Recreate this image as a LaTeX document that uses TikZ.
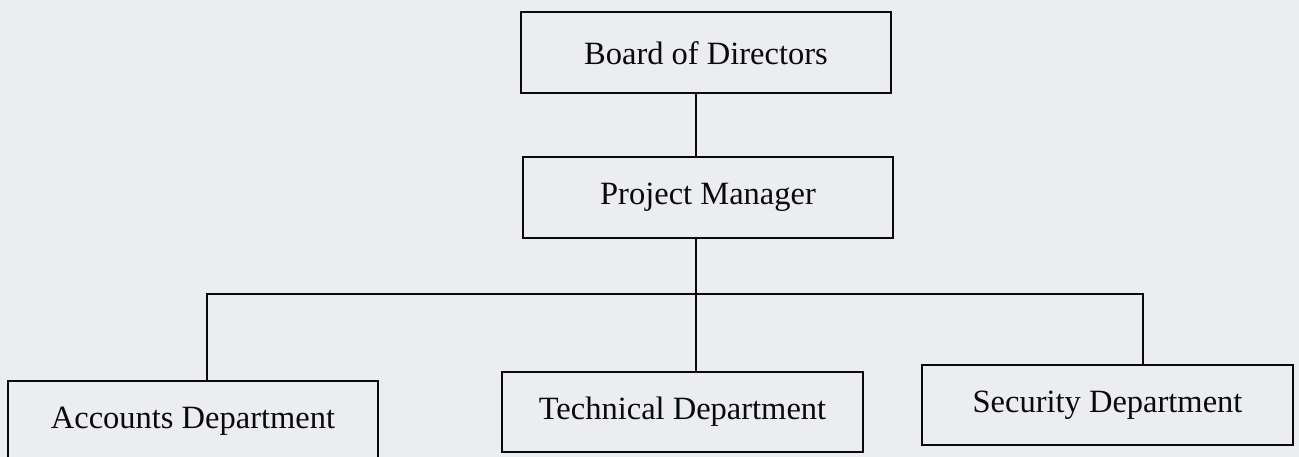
\documentclass[tikz,border=0pt]{standalone}
\usepackage{fontspec}
\setmainfont{Liberation Serif}
\definecolor{paper}{RGB}{236,237,240}
\definecolor{ink}{RGB}{10,10,10}
\begin{document}
\begin{tikzpicture}[x=1pt,y=1pt,
  box/.style={draw=ink, line width=2pt, fill=paper, rectangle, inner sep=0pt,
    font=\fontsize{32.5}{38}\selectfont, text=ink},
  link/.style={draw=ink, line width=2pt}]
\fill[paper] (0,0) rectangle (1299,-457);
\useasboundingbox (0,0) rectangle (1299,-457);
\node[box, minimum width=370, minimum height=81] (board) at (706,-53) {Board of Directors};
\node[box, minimum width=370, minimum height=81] (pm) at (708,-197.5) {Project Manager};
\node[box, minimum width=370, minimum height=80] (acc) at (193,-421) {\raisebox{5pt}{Accounts Department}};
\node[box, minimum width=361, minimum height=80] (tech) at (682.5,-412) {Technical Department};
\node[box, minimum width=371, minimum height=80] (sec) at (1107.5,-405) {\raisebox{6pt}{Security Department}};
\coordinate (jA) at (207,-294);
\coordinate (jT) at (696,-294);
\coordinate (jS) at (1143,-294);
\draw[link] (board.south -| jT) -- (pm.north -| jT);
\draw[link] (pm.south -| jT) -- (tech.north -| jT);
\draw[link, line cap=rect] (acc.north -| jA) -- (jA) -- (jS) -- (sec.north -| jS);
\end{tikzpicture}
\end{document}
